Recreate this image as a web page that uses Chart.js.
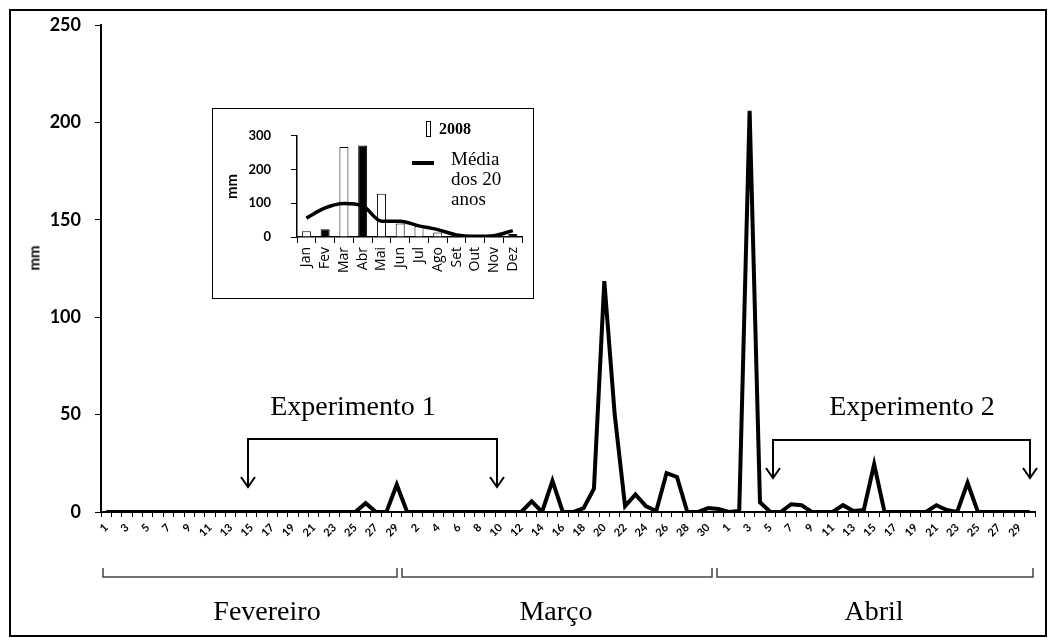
<!DOCTYPE html>
<html>
<head>
<meta charset="utf-8">
<script src="https://cdn.jsdelivr.net/npm/chart.js@4.4.0/dist/chart.umd.min.js"></script>
<style>
    body { margin: 0; background: #fff; }
    #wrap { position: relative; width: 1053px; height: 641px; overflow: hidden; }
    #main { position: absolute; left: 0; top: 0; }
    #frame { position: absolute; left: 9px; top: 9px; width: 1038px; height: 628px; border: 2px solid #000; box-sizing: border-box; pointer-events: none; }
    #inset { position: absolute; left: 212px; top: 108px; background: #fff; }
    #insetBox { position: absolute; left: 212px; top: 108px; width: 322px; height: 191px; border: 1.5px solid #000; box-sizing: border-box; pointer-events: none; }
    .serif { position: absolute; font-family: "Liberation Serif", "Times New Roman", serif; color: #000; white-space: nowrap; }
    .big { font-size: 28px; line-height: 28px; transform: translateX(-50%); }
    .leg { font-size: 19px; line-height: 20px; }
    #mmMain { position: absolute; left: 34px; top: 258px; font-family: Lato, sans-serif; font-weight: bold; font-size: 15px; line-height: 15px; transform: translate(-50%, -50%) rotate(-90deg); }
    #legBar { position: absolute; left: 426px; top: 121px; width: 5px; height: 16px; border: 1.5px solid #000; box-sizing: border-box; background: #fff; }
    #legLine { position: absolute; left: 412px; top: 161px; width: 22px; height: 4px; background: #000; }
</style>
</head>
<body>
<div id="wrap">
    <canvas id="main" width="1053" height="641"></canvas>
    <div id="mmMain">mm</div>
    <canvas id="inset" width="322" height="191"></canvas>
    <div id="insetBox"></div>
    <div id="legBar"></div>
    <div class="serif" style="left:439px; top:121px; font-size:16px; line-height:16px; font-weight:bold;">2008</div>
    <div id="legLine"></div>
    <div class="serif leg" style="left:451px; top:149px;">Média<br>dos 20<br>anos</div>
    <div class="serif big" style="left:353px; top:392px;">Experimento 1</div>
    <div class="serif big" style="left:912px; top:392px;">Experimento 2</div>
    <div class="serif big" style="left:267px; top:597px;">Fevereiro</div>
    <div class="serif big" style="left:556px; top:597px;">Março</div>
    <div class="serif big" style="left:874px; top:597px;">Abril</div>
    <div id="frame"></div>
</div>
<script>
// dias de cada mes (2008)
const diasFev = [1, 2, 3, 4, 5, 6, 7, 8, 9, 10, 11, 12, 13, 14, 15, 16, 17, 18, 19, 20, 21, 22, 23, 24, 25, 26, 27, 28, 29];
const diasMar = [1, 2, 3, 4, 5, 6, 7, 8, 9, 10, 11, 12, 13, 14, 15, 16, 17, 18, 19, 20, 21, 22, 23, 24, 25, 26, 27, 28, 29, 30, 31];
const diasAbr = [1, 2, 3, 4, 5, 6, 7, 8, 9, 10, 11, 12, 13, 14, 15, 16, 17, 18, 19, 20, 21, 22, 23, 24, 25, 26, 27, 28, 29, 30];

// chuva diaria (mm)
const chuvaFev = [0, 0, 0, 0, 0, 0, 0, 0, 0, 0, 0, 0, 0, 0, 0, 0, 0, 0, 0, 0, 0, 0, 0, 0, 0, 4.5, 0, 0, 14];
const chuvaMar = [0, 0, 0, 0, 0, 0, 0, 0, 0, 0, 0, 0, 5.5, 0, 16, 0, 0, 2, 12, 118.5, 50, 3, 9, 3, 0.5, 20, 18, 0, 0, 2, 1.5];
const chuvaAbr = [0, 0.5, 206, 5, 0, 0, 4, 3.5, 0, 0, 0, 3.5, 0.5, 1, 24.5, 0, 0, 0, 0, 0, 3.5, 1, 0, 15, 0, 0, 0, 0, 0, 0];

const yTicks = [0, 50, 100, 150, 200, 250];

// grafico pequeno: meses
const meses = ["Jan", "Fev", "Mar", "Abr", "Mai", "Jun", "Jul", "Ago", "Set", "Out", "Nov", "Dez"];
const chuva2008 = [17, 23, 267, 271, 128, 40, 32, 13, 3, 0, 1, 9];
const media20anos = [56, 86, 99, 92, 47, 47, 33, 22, 6, 2, 4, 19];
const mesesEscuros = ["Fev", "Abr", "Dez"];

const dias = [...diasFev, ...diasMar, ...diasAbr];
const chuva = [...chuvaFev, ...chuvaMar, ...chuvaAbr];

// chaves e setas desenhadas por cima do grafico
const chaves = {
    id: "chaves",
    afterDraw(chart) {
        const ctx = chart.ctx;
        ctx.save();
        ctx.strokeStyle = "#000";
        ctx.lineWidth = 2;
        function seta(x, y) {
            ctx.moveTo(x - 7, y - 10);
            ctx.lineTo(x, y);
            ctx.lineTo(x + 7, y - 10);
        }
        function experimento(x1, x2, yTop, yTip) {
            ctx.beginPath();
            ctx.moveTo(x1, yTip);
            ctx.lineTo(x1, yTop);
            ctx.lineTo(x2, yTop);
            ctx.lineTo(x2, yTip);
            seta(x1, yTip);
            seta(x2, yTip);
            ctx.stroke();
        }
        experimento(248, 497, 439, 487);
        experimento(773, 1030, 440, 478);

        // chaves dos meses
        ctx.strokeStyle = "#444";
        ctx.lineWidth = 1.5;
        [[103, 397], [402, 712], [717, 1033]].forEach(([a, b]) => {
            ctx.beginPath();
            ctx.moveTo(a, 568);
            ctx.lineTo(a, 577);
            ctx.lineTo(b, 577);
            ctx.lineTo(b, 568);
            ctx.stroke();
        });
        ctx.restore();
    },
};

new Chart(document.getElementById("main"), {
    type: "line",
    data: {
        labels: dias,
        datasets: [
            {
                data: chuva,
                borderColor: "#000",
                borderWidth: 4,
                borderJoinStyle: "miter",
                pointRadius: 0,
                tension: 0,
                fill: false,
            },
        ],
    },
    options: {
        responsive: false,
        animation: false,
        layout: { padding: { left: 0, top: 25, right: 18, bottom: 0 } },
        plugins: { legend: { display: false }, tooltip: { enabled: false } },
        scales: {
            x: {
                offset: true,
                grid: { offset: true, drawOnChartArea: false, tickLength: 5, color: "#000", lineWidth: 1 },
                border: { color: "#000", width: 2 },
                ticks: {
                    autoSkip: false,
                    maxRotation: 45,
                    minRotation: 45,
                    padding: 4,
                    color: "#000",
                    font: { family: "Lato", weight: "bold", size: 11 },
                    callback: (v, i) => (i % 2 === 0 ? dias[i] : ""),
                },
                afterFit: (s) => {
                    s.height = 129;
                },
            },
            y: {
                min: 0,
                max: 250,
                afterBuildTicks: (s) => {
                    s.ticks = yTicks.map((v) => ({ value: v }));
                },
                ticks: { padding: 14, color: "#000", font: { family: "Lato", weight: "bold", size: 18 } },
                grid: { drawOnChartArea: false, tickLength: 6, color: "#000" },
                border: { color: "#000", width: 2 },
                afterFit: (s) => {
                    s.width = 101;
                },
            },
        },
    },
    plugins: [chaves],
});

// grafico pequeno
new Chart(document.getElementById("inset"), {
    data: {
        labels: meses,
        datasets: [
            {
                type: "line",
                data: media20anos,
                borderColor: "#000",
                borderWidth: 3.5,
                pointRadius: 0,
                tension: 0.4,
                cubicInterpolationMode: "monotone",
                order: 0,
            },
            {
                type: "bar",
                data: chuva2008,
                backgroundColor: (c) => (mesesEscuros.includes(meses[c.dataIndex]) ? "#000" : "#fff"),
                borderColor: "#000",
                borderWidth: 1,
                barPercentage: 0.48,
                categoryPercentage: 1,
                order: 1,
            },
        ],
    },
    options: {
        responsive: false,
        animation: false,
        layout: { padding: { left: 0, top: 13, right: 9, bottom: 0 } },
        plugins: { legend: { display: false }, tooltip: { enabled: false } },
        scales: {
            x: {
                grid: { offset: true, drawOnChartArea: false, tickLength: 6, color: "#000" },
                border: { color: "#000", width: 1.5 },
                ticks: {
                    autoSkip: false,
                    maxRotation: 90,
                    minRotation: 90,
                    padding: 4,
                    color: "#000",
                    font: { family: "Open Sans", size: 14 },
                },
                afterFit: (s) => {
                    s.height = 62;
                },
            },
            y: {
                min: 0,
                max: 300,
                ticks: { stepSize: 100, padding: 20, color: "#000", font: { family: "Lato", weight: "bold", size: 13 } },
                grid: { drawOnChartArea: false, tickLength: 6, color: "#000" },
                border: { color: "#000", width: 1.5 },
                title: {
                    display: true,
                    text: "mm",
                    color: "#000",
                    font: { family: "Lato", weight: "bold", size: 15 },
                    padding: { top: 11, bottom: 0 },
                },
                afterFit: (s) => {
                    s.width = 85;
                },
            },
        },
    },
});
</script>
</body>
</html>
